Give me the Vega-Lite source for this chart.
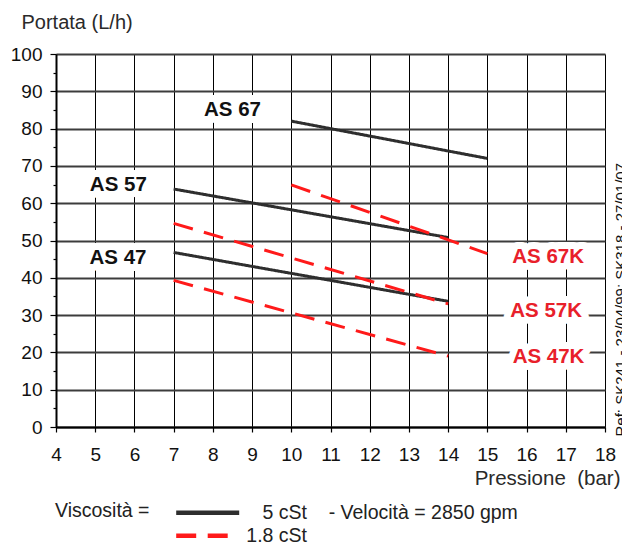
{
  "$schema": "https://vega.github.io/schema/vega-lite/v6.json",
  "width": 549,
  "height": 373,
  "autosize": {"type": "none"},
  "padding": {"left": 56, "top": 54, "right": 17, "bottom": 117},
  "background": "white",
  "config": {
    "font": "Liberation Sans",
    "view": {"stroke": null},
    "axis": {"labelFont": "Liberation Sans", "titleFont": "Liberation Sans", "labelColor": "#111", "titleColor": "#2a2a2a"}
  },
  "datasets": {
    "curves": [
      {"model": "AS 67", "viscosity": "5 cSt", "p": 10, "q": 82},
      {"model": "AS 67", "viscosity": "5 cSt", "p": 15, "q": 72},
      {"model": "AS 57", "viscosity": "5 cSt", "p": 7, "q": 63.8},
      {"model": "AS 57", "viscosity": "5 cSt", "p": 14, "q": 50.8},
      {"model": "AS 47", "viscosity": "5 cSt", "p": 7, "q": 46.8},
      {"model": "AS 47", "viscosity": "5 cSt", "p": 14, "q": 33.7},
      {"model": "AS 67K", "viscosity": "1.8 cSt", "p": 10, "q": 64.9},
      {"model": "AS 67K", "viscosity": "1.8 cSt", "p": 15, "q": 46.5},
      {"model": "AS 57K", "viscosity": "1.8 cSt", "p": 7, "q": 54.6},
      {"model": "AS 57K", "viscosity": "1.8 cSt", "p": 14, "q": 33.0},
      {"model": "AS 47K", "viscosity": "1.8 cSt", "p": 7, "q": 39.3},
      {"model": "AS 47K", "viscosity": "1.8 cSt", "p": 14, "q": 19.0}
    ],
    "labels": [
      {"model": "AS 67", "viscosity": "5 cSt", "p": 8.5, "q": 85},
      {"model": "AS 57", "viscosity": "5 cSt", "p": 5.59, "q": 65},
      {"model": "AS 47", "viscosity": "5 cSt", "p": 5.58, "q": 45.4},
      {"model": "AS 67K", "viscosity": "1.8 cSt", "p": 16.55, "q": 45.7},
      {"model": "AS 57K", "viscosity": "1.8 cSt", "p": 16.5, "q": 31.2},
      {"model": "AS 47K", "viscosity": "1.8 cSt", "p": 16.56, "q": 18.9}
    ]
  },
  "encoding": {
    "x": {
      "field": "p",
      "type": "quantitative",
      "scale": {"domain": [4, 18], "nice": false, "zero": false},
      "axis": {
        "values": [4, 5, 6, 7, 8, 9, 10, 11, 12, 13, 14, 15, 16, 17, 18],
        "tickSize": 5,
        "tickColor": "black",
        "tickWidth": 1.2,
        "domainColor": "black",
        "domainWidth": 2,
        "grid": true,
        "gridColor": "black",
        "gridWidth": 1,
        "labelFontSize": 19,
        "labelPadding": 13,
        "labelFlush": false,
        "labelOverlap": false,
        "title": "Pressione\u00a0\u00a0(bar)",
        "titleFontSize": 20.5,
        "titleFontWeight": "normal",
        "titleAnchor": "end",
        "titleAlign": "right",
        "titleBaseline": "alphabetic",
        "titleX": 564,
        "titleY": 57
      }
    }
  },
  "layer": [
    {
      "data": {"name": "curves"},
      "mark": {"type": "line", "strokeWidth": 3},
      "encoding": {
        "y": {
          "field": "q",
          "type": "quantitative",
          "scale": {"domain": [0, 100], "nice": false},
          "axis": {
            "values": [0, 5, 10, 15, 20, 25, 30, 35, 40, 45, 50, 55, 60, 65, 70, 75, 80, 85, 90, 95, 100],
            "labelExpr": "datum.value % 10 === 0 ? datum.label : ''",
            "tickSize": {"condition": {"test": "datum.value % 10 !== 0", "value": 3}, "value": 6},
            "gridOpacity": {"condition": {"test": "datum.value % 10 !== 0", "value": 0}, "value": 1},
            "gridColor": "#3c3c3c",
            "gridWidth": 1.8,
            "domainColor": "black",
            "domainWidth": 2,
            "tickColor": "black",
            "tickWidth": 1.2,
            "labelFontSize": 19,
            "labelPadding": 8,
            "labelOverlap": false,
            "title": "Portata (L/h)",
            "titleAngle": 0,
            "titleAlign": "left",
            "titleBaseline": "alphabetic",
            "titleX": -35,
            "titleY": -26,
            "titleFontSize": 20,
            "titleFontWeight": "normal"
          }
        },
        "color": {
          "field": "viscosity",
          "type": "nominal",
          "scale": {"domain": ["5 cSt", "1.8 cSt"], "range": ["#2e2e2e", "#ff1a1a"]},
          "legend": {
            "orient": "none",
            "legendX": -1,
            "legendY": 445.7,
            "direction": "vertical",
            "title": "Viscosità =",
            "titleOrient": "left",
            "titleFont": "Liberation Sans",
            "titleFontSize": 19.5,
            "titleFontWeight": "normal",
            "titleColor": "#222",
            "titlePadding": 44.7,
            "titleBaseline": "top",
            "titleAnchor": "start",
            "symbolType": "M-3,0L3,0",
            "symbolSize": 441,
            "symbolStrokeWidth": 4.5,
            "labelFont": "Liberation Sans",
            "labelFontSize": 19.5,
            "labelColor": "#222",
            "labelOffset": 25.6,
            "labelLimit": 0,
            "rowPadding": 0,
            "padding": 0,
            "labelExpr": "datum.value === '5 cSt' ? '\u200b\u00a0\u00a0\u00a05 cSt\u00a0\u00a0\u00a0\u00a0- Velocità = 2850 gpm' : datum.label",
            "encode": {
              "title": {"update": {"angle": {"value": 0}, "dy": {"value": 2.5}}},
              "symbols": {"update": {
                "strokeDash": {"signal": "datum.value === '1.8 cSt' ? [27, 9] : [1, 0]"}
              }}
            }
          }
        },
        "strokeDash": {
          "field": "viscosity",
          "type": "nominal",
          "scale": {"domain": ["5 cSt", "1.8 cSt"], "range": [[1, 0], [20, 11.5]]},
          "legend": null
        },
        "detail": {"field": "model", "type": "nominal"}
      }
    },
    {
      "data": {"name": "labels"},
      "mark": {"type": "text", "font": "Liberation Sans", "fontSize": 20.5, "fontWeight": "bold", "fill": "white", "stroke": "white", "strokeWidth": 14, "strokeJoin": "round", "align": "center", "baseline": "middle"},
      "encoding": {
        "y": {"field": "q", "type": "quantitative", "axis": null},
        "text": {"field": "model", "type": "nominal"}
      }
    },
    {
      "data": {"name": "labels"},
      "mark": {"type": "text", "font": "Liberation Sans", "fontSize": 20.5, "fontWeight": "bold", "align": "center", "baseline": "middle"},
      "encoding": {
        "y": {
          "field": "q",
          "type": "quantitative",
          "axis": {
            "orient": "right",
            "labels": false,
            "ticks": false,
            "domain": false,
            "grid": false,
            "title": "Ref: SK241 - 23/04/99; SK318 - 27/01/07",
            "titleAngle": 270,
            "titleAlign": "left",
            "titleBaseline": "alphabetic",
            "titleX": 20.7,
            "titleY": 382,
            "titleFontSize": 15,
            "titleFontWeight": "normal",
            "titleColor": "#111"
          }
        },
        "text": {"field": "model", "type": "nominal"},
        "color": {"condition": {"test": "datum.viscosity === '1.8 cSt'", "value": "#e8202a"}, "value": "#111111"}
      }
    }
  ],
  "resolve": {"axis": {"y": "independent"}}
}
